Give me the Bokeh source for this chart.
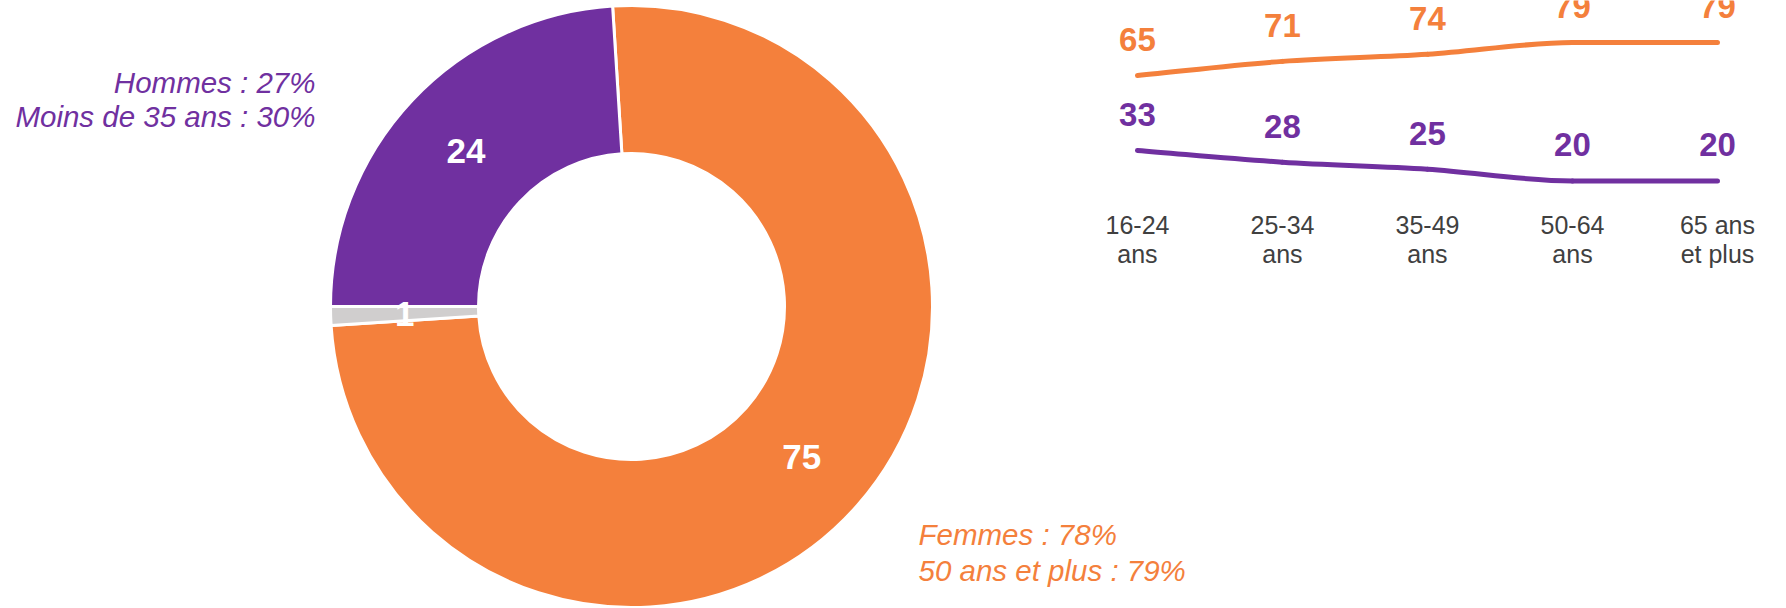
import numpy as np
from bokeh.plotting import figure
from bokeh.models import Range1d
from bokeh.core.properties import value
from bokeh.embed import file_html
from bokeh.resources import INLINE

# ---------------- data ----------------
donut_names = ["Femmes", "Non réponse", "Hommes"]
donut_values = [75, 1, 24]
donut_colors = ["#F4803C", "#D0CECE", "#7030A0"]

age_groups = ["16-24\nans", "25-34\nans", "35-49\nans", "50-64\nans", "65 ans\net plus"]
femmes = [65, 71, 74, 79, 79]
hommes = [33, 28, 25, 20, 20]

hommes_note = ["Hommes : 27%", "Moins de 35 ans : 30%"]
femmes_note = ["Femmes : 78%", "50 ans et plus : 79%"]

ORANGE = "#F4803C"
PURPLE = "#7030A0"
GREY_TXT = "#404040"
FONT = "Liberation Sans"

W, H = 1786, 608
p = figure(width=W, height=H, output_backend="svg", toolbar_location=None,
           x_range=Range1d(-631, 1155), y_range=Range1d(-302, 306),
           min_border=0, outline_line_color=None, background_fill_color="white")
p.axis.visible = False
p.grid.visible = False

# ---------------- donut ----------------
total = float(sum(donut_values))
start0 = np.deg2rad(93.6)
vals = np.array(donut_values, dtype=float)
cum = np.concatenate([[0], np.cumsum(vals)[:-1]])
starts = start0 - cum / total * 2 * np.pi
ends = starts - vals / total * 2 * np.pi
R_OUT, R_IN = 301, 153
p.annular_wedge(x=0, y=0, inner_radius=R_IN, outer_radius=R_OUT,
                start_angle=starts, end_angle=ends, direction="clock",
                fill_color=donut_colors, line_color="white", line_width=3)
mid = (starts + ends) / 2
r_lab = (R_OUT + R_IN) / 2
p.text(x=r_lab * np.cos(mid), y=r_lab * np.sin(mid), text=[str(v) for v in donut_values],
       text_color="white", text_font=value(FONT), text_font_style="bold",
       text_font_size="35px", text_align="center", text_baseline="middle")

# notes
p.text(x=[-316, -316], y=[224, 190], text=hommes_note, text_color=PURPLE,
       text_font=value(FONT), text_font_style="italic", text_font_size="29.5px",
       text_align="right", text_baseline="middle")
p.text(x=[287, 287], y=[-228, -263.5], text=femmes_note, text_color=ORANGE,
       text_font=value(FONT), text_font_style="italic", text_font_size="29.5px",
       text_align="left", text_baseline="middle")

# ---------------- line chart ----------------
p.extra_x_ranges = {"age": Range1d(-7.841, 4.476)}
p.extra_y_ranges = {"pct": Range1d(-162.4, 96.97)}
idx = np.arange(len(age_groups), dtype=float)


def smooth(ys):
    ys = np.array(ys, dtype=float)
    d = np.diff(ys)
    m = np.zeros_like(ys)
    m[0] = d[0]
    m[-1] = d[-1]
    for k in range(1, len(ys) - 1):
        if d[k - 1] * d[k] > 0:
            m[k] = (d[k - 1] + d[k]) / 2
        else:
            m[k] = 0.0
    x0 = idx[:-1]; x1 = idx[1:]
    y0 = ys[:-1]; y1 = ys[1:]
    cx0 = x0 + 1 / 3; cy0 = y0 + m[:-1] / 3
    cx1 = x1 - 1 / 3; cy1 = y1 - m[1:] / 3
    return dict(x0=x0, y0=y0, x1=x1, y1=y1, cx0=cx0, cy0=cy0, cx1=cx1, cy1=cy1)


for ys, col in [(femmes, ORANGE), (hommes, PURPLE)]:
    p.bezier(**smooth(ys), line_color=col, line_width=5, line_cap="round",
             x_range_name="age", y_range_name="pct")
    p.text(x=idx, y=ys, text=[str(v) for v in ys], y_offset=-36,
           text_color=col, text_font=value(FONT), text_font_style="bold",
           text_font_size="33px", text_align="center", text_baseline="middle",
           x_range_name="age", y_range_name="pct")

p.text(x=idx, y=[96] * len(age_groups), text=age_groups, x_range_name="age",
       text_color=GREY_TXT, text_font=value(FONT), text_font_size="25px",
       text_align="center", text_baseline="top", text_line_height=1.06)

open("out.html", "w").write(file_html(p, INLINE))
